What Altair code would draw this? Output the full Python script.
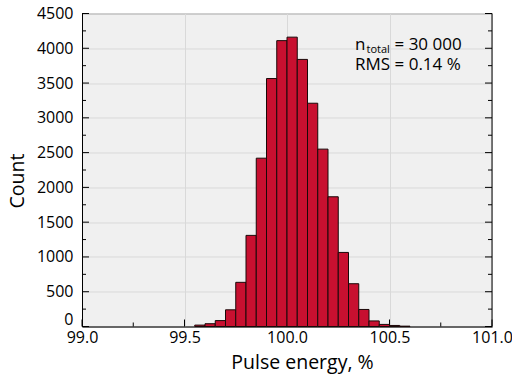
import altair as alt
import pandas as pd

# ---- data ----
bin_left = [99.55, 99.60, 99.65, 99.70, 99.75, 99.80, 99.85, 99.90, 99.95, 100.00,
            100.05, 100.10, 100.15, 100.20, 100.25, 100.30, 100.35, 100.40, 100.45,
            100.50, 100.55]
bin_right = [99.60, 99.65, 99.70, 99.75, 99.80, 99.85, 99.90, 99.95, 100.00, 100.05,
             100.10, 100.15, 100.20, 100.25, 100.30, 100.35, 100.40, 100.45, 100.50,
             100.55, 100.60]
counts = [20, 40, 85, 240, 635, 1310, 2420, 3565, 4110, 4160,
          3840, 3210, 2550, 1865, 1065, 615, 245, 80, 30, 15, 5]

x_major = [99.0, 99.5, 100.0, 100.5, 101.0]
x_minor = [99.25, 99.75, 100.25, 100.75]
y_major = [0, 500, 1000, 1500, 2000, 2500, 3000, 3500, 4000, 4500]
y_minor = [250, 750, 1250, 1750, 2250, 2750, 3250, 3750, 4250]

ann_n = ["n"]
ann_sub = ["total"]
ann_eq = ["= 30 000"]
ann_rms = ["RMS = 0.14 %"]

# ---- styling ----
W, H = 410, 313
FONT = "Open Sans"
BAR_FILL = "#c81030"
BAR_STROKE = "#1a0808"
GRID = "#d9d9d9"

xscale = alt.Scale(domain=[99.0, 101.0], nice=False, zero=False)
yscale = alt.Scale(domain=[0, 4500], nice=False)

xaxis = alt.Axis(values=x_major, format=".1f", title="Pulse energy, %",
                 grid=True, gridColor=GRID, ticks=False,
                 domainColor="black", labelFlush=False,
                 labelFont=FONT, labelFontSize=16, labelColor="black",
                 labelPadding=3,
                 titleFont=FONT, titleFontSize=19.5, titleFontWeight="normal",
                 titleColor="black", titleX=220, titleY=36,
                 titleAlign="center", titleBaseline="middle")
yaxis = alt.Axis(values=y_major, format="d", title="Count",
                 grid=True, gridColor=GRID, ticks=False,
                 domainColor="black",
                 labelFont=FONT, labelFontSize=16, labelColor="black",
                 labelPadding=9,
                 labelBaseline={"condition": {"test": "datum.value == 0",
                                              "value": "alphabetic"},
                                "value": "middle"},
                 labelOffset={"condition": {"test": "datum.value == 0",
                                            "value": -2},
                              "value": 0},
                 titleFont=FONT, titleFontSize=19.5, titleFontWeight="normal",
                 titleColor="black", titleX=-65, titleY=167,
                 titleAngle=270, titleAlign="center",
                 titleBaseline="middle")

bars_df = pd.DataFrame({"left": bin_left, "right": bin_right, "count": counts})

bars = alt.Chart(bars_df).mark_rect(
    fill=BAR_FILL, stroke=BAR_STROKE, strokeWidth=1
).encode(
    x=alt.X("left:Q", scale=xscale, axis=xaxis),
    x2="right:Q",
    y=alt.Y("count:Q", scale=yscale, axis=yaxis),
    y2=alt.datum(0),
)

ymaj = pd.DataFrame({"count": y_major})
ymin = pd.DataFrame({"count": y_minor})
xmaj = pd.DataFrame({"left": x_major})
xmin = pd.DataFrame({"left": x_minor})


def yticks(df, x0, x1):
    return alt.Chart(df).mark_rule(color="black", strokeWidth=1).encode(
        y=alt.Y("count:Q", scale=yscale, axis=yaxis), x=alt.value(x0), x2=alt.value(x1))


def xticks(df, y0, y1):
    return alt.Chart(df).mark_rule(color="black", strokeWidth=1).encode(
        x=alt.X("left:Q", scale=xscale, axis=xaxis), y=alt.value(y0), y2=alt.value(y1))


ticks = [
    yticks(ymaj, 0, 7), yticks(ymin, 0, 4),
    yticks(ymaj, W, W - 7), yticks(ymin, W, W - 4),
    xticks(xmaj, H, H - 7), xticks(xmin, H, H - 4),
]

right_frame = alt.Chart(pd.DataFrame({"v": [0]})).mark_rule(
    color="black", strokeWidth=1
).encode(x=alt.value(W), y=alt.value(0), y2=alt.value(H))


def label(txt, x, y, size):
    return alt.Chart(pd.DataFrame({"t": txt})).mark_text(
        align="left", baseline="alphabetic", font=FONT, fontSize=size, color="black"
    ).encode(text="t:N", x=alt.value(x), y=alt.value(y))


texts = [
    label(ann_n, 273, 36.5, 17),
    label(ann_sub, 284.5, 39.5, 11),
    label(ann_eq, 312.5, 36.5, 17),
    label(ann_rms, 273, 56.5, 17),
]

chart = alt.layer(*ticks, bars, right_frame, *texts).properties(
    width=W, height=H,
    autosize=alt.AutoSizeParams(type="none"),
    padding={"left": 82, "top": 13.5, "right": 20, "bottom": 49.5},
).configure_view(fill="#f0f0f0", stroke="#8c8c8c", strokeWidth=1)

chart.save("out.html", embed_options={"renderer": "svg", "actions": False})
